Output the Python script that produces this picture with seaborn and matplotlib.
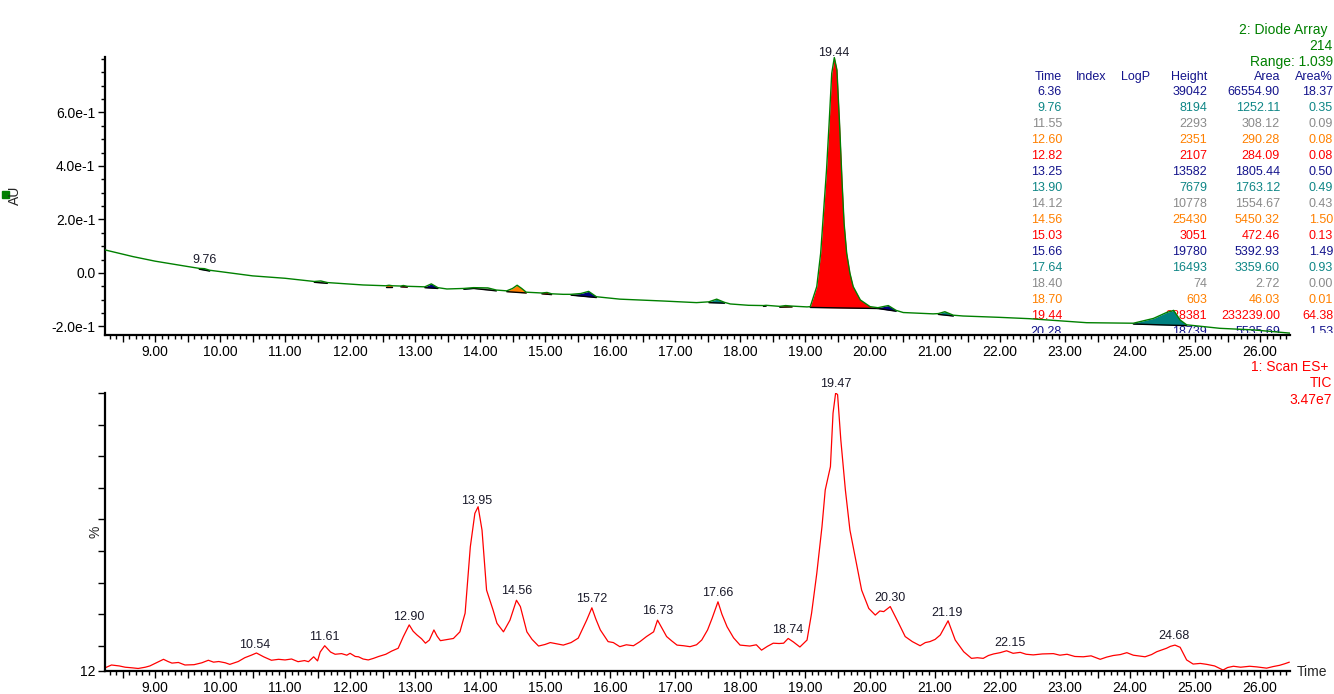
import numpy as np
import matplotlib
matplotlib.use("Agg")
import matplotlib.pyplot as plt
import seaborn as sns
from matplotlib.ticker import MultipleLocator, FuncFormatter

# --- 2: Diode Array trace (AU) ---
dad_time = [8.23, 8.66, 9.00, 9.50, 9.68, 9.76, 9.84, 10.00, 10.50, 11.00, 11.45, 11.55,
            11.65, 12.20, 12.55, 12.60, 12.65, 12.78, 12.82, 12.88, 13.02, 13.15, 13.25,
            13.35, 13.49, 13.75, 13.90, 14.12, 14.25, 14.41, 14.50, 14.57, 14.64, 14.71,
            14.95, 15.03, 15.10, 15.28, 15.40, 15.55, 15.67, 15.79, 16.15, 16.82, 17.33,
            17.52, 17.64, 17.76, 17.85, 18.13, 18.36, 18.40, 18.61, 18.70, 18.80, 19.03,
            19.08, 19.18, 19.24, 19.29, 19.33, 19.37, 19.41, 19.45, 19.49, 19.53, 19.57,
            19.60, 19.64, 19.69, 19.74, 19.85, 20.00, 20.12, 20.28, 20.40, 20.51, 20.97,
            21.05, 21.15, 21.28, 21.43, 21.99, 22.45, 23.33, 24.05, 24.36, 24.56, 24.67,
            24.77, 24.87, 25.38, 25.90, 26.46]
dad_au = [0.086, 0.061, 0.044, 0.024, 0.017, 0.016, 0.010, 0.005, -0.011, -0.020, -0.032, -0.030,
          -0.036, -0.045, -0.048, -0.046, -0.048, -0.049, -0.047, -0.050, -0.051, -0.052, -0.041,
          -0.055, -0.060, -0.058, -0.055, -0.056, -0.064, -0.067, -0.058, -0.046, -0.058, -0.072,
          -0.075, -0.073, -0.078, -0.080, -0.080, -0.077, -0.069, -0.089, -0.098, -0.105, -0.111,
          -0.108, -0.098, -0.110, -0.116, -0.121, -0.122, -0.121, -0.125, -0.122, -0.124, -0.127,
          -0.126, -0.051, 0.074, 0.248, 0.385, 0.560, 0.746, 0.805, 0.759, 0.560, 0.335,
          0.186, 0.074, -0.001, -0.051, -0.101, -0.126, -0.130, -0.122, -0.140, -0.148, -0.153,
          -0.152, -0.145, -0.158, -0.161, -0.166, -0.171, -0.186, -0.188, -0.170, -0.148, -0.140,
          -0.176, -0.194, -0.207, -0.213, -0.225]

# integrated peak windows on the DAD trace
fill_start = [9.68, 11.45, 12.55, 12.78, 13.15, 13.75, 13.90, 14.41, 14.95, 15.40, 17.52,
              18.36, 18.61, 19.08, 20.12, 21.05, 24.05]
fill_end = [9.84, 11.65, 12.65, 12.88, 13.35, 13.90, 14.25, 14.71, 15.10, 15.79, 17.76,
            18.40, 18.80, 20.12, 20.40, 21.28, 24.87]
fill_color = ["#008080", "#808080", "#ff8000", "#ff0000", "#000080", "#008080", "#808080",
              "#ff8000", "#ff0000", "#000080", "#008080", "#808080", "#ff8000", "#ff0000",
              "#000080", "#008080", "#008080"]
dad_labels = [9.76, 19.44]

# peak table
tbl_time = ["6.36", "9.76", "11.55", "12.60", "12.82", "13.25", "13.90", "14.12", "14.56",
            "15.03", "15.66", "17.64", "18.40", "18.70", "19.44", "20.28"]
tbl_height = ["39042", "8194", "2293", "2351", "2107", "13582", "7679", "10778", "25430",
              "3051", "19780", "16493", "74", "603", "928381", "18739"]
tbl_area = ["66554.90", "1252.11", "308.12", "290.28", "284.09", "1805.44", "1763.12",
            "1554.67", "5450.32", "472.46", "5392.93", "3359.60", "2.72", "46.03",
            "233239.00", "5535.69"]
tbl_pct = ["18.37", "0.35", "0.09", "0.08", "0.08", "0.50", "0.49", "0.43", "1.50", "0.13",
           "1.49", "0.93", "0.00", "0.01", "64.38", "1.53"]
tbl_colors = ["#14148c", "#0e8686", "#8a8a8a", "#ff8000", "#ff0000"]

# --- 1: Scan ES+ TIC (%) ---
tic_time = [8.23, 8.33, 8.45, 8.54, 8.65, 8.74, 8.85, 8.92, 9.02, 9.13, 9.20, 9.26, 9.36, 9.46,
            9.60, 9.72, 9.82, 9.90, 9.98, 10.08, 10.15, 10.28, 10.38, 10.48, 10.56, 10.67,
            10.79, 10.90, 11.00, 11.10, 11.20, 11.30, 11.36, 11.44, 11.50, 11.54, 11.61,
            11.70, 11.77, 11.87, 11.95, 12.00, 12.08, 12.13, 12.20, 12.28, 12.36, 12.44,
            12.55, 12.64, 12.74, 12.82, 12.91, 12.97, 13.03, 13.10, 13.16, 13.22, 13.29,
            13.34, 13.39, 13.50, 13.59, 13.69, 13.77, 13.85, 13.92, 13.97, 14.03, 14.10,
            14.20, 14.26, 14.36, 14.46, 14.56, 14.62, 14.72, 14.80, 14.90, 15.00, 15.08,
            15.18, 15.28, 15.40, 15.51, 15.64, 15.72, 15.78, 15.85, 15.97, 16.05, 16.15,
            16.25, 16.36, 16.46, 16.56, 16.67, 16.73, 16.80, 16.87, 16.95, 17.03, 17.13,
            17.23, 17.33, 17.41, 17.50, 17.57, 17.66, 17.72, 17.80, 17.90, 18.00, 18.15,
            18.25, 18.33, 18.42, 18.51, 18.60, 18.67, 18.74, 18.82, 18.92, 19.03, 19.10,
            19.18, 19.26, 19.31, 19.39, 19.43, 19.47, 19.50, 19.55, 19.62, 19.69, 19.80,
            19.87, 19.98, 20.08, 20.15, 20.21, 20.31, 20.44, 20.54, 20.65, 20.77, 20.85,
            20.92, 21.00, 21.08, 21.20, 21.31, 21.44, 21.56, 21.65, 21.74, 21.82, 21.90,
            22.00, 22.10, 22.20, 22.31, 22.40, 22.51, 22.65, 22.82, 22.92, 23.03, 23.15,
            23.28, 23.40, 23.54, 23.64, 23.74, 23.85, 23.95, 24.05, 24.23, 24.33, 24.41,
            24.48, 24.56, 24.62, 24.69, 24.77, 24.87, 24.97, 25.08, 25.18, 25.30, 25.43,
            25.50, 25.59, 25.70, 25.84, 25.95, 26.10, 26.20, 26.30, 26.38, 26.45]
tic_pct = [13.0, 13.9, 13.6, 13.2, 13.0, 12.8, 13.2, 13.6, 14.6, 15.7, 15.0, 14.5, 14.7, 13.9,
           14.0, 14.6, 15.4, 14.8, 15.0, 14.6, 14.1, 15.0, 16.2, 17.0, 17.7, 16.5,
           15.4, 15.7, 15.5, 15.8, 14.95, 15.3, 14.95, 16.5, 15.2, 18.0, 20.0,
           18.0, 17.3, 17.5, 17.0, 17.6, 16.6, 16.5, 15.8, 15.5, 16.0, 16.6,
           17.3, 18.3, 19.2, 22.9, 26.6, 24.6, 23.4, 22.2, 20.8, 21.8, 25.0,
           23.0, 21.6, 22.0, 22.3, 24.4, 30.3, 51.3, 61.9, 64.0, 56.6, 37.6,
           31.3, 27.1, 24.4, 28.1, 34.4, 32.4, 24.4, 22.0, 19.9, 20.4, 21.0,
           20.6, 20.2, 21.0, 22.4, 28.1, 32.0, 28.5, 25.0, 21.3, 21.0, 19.7,
           20.3, 20.0, 21.3, 22.9, 24.4, 28.1, 25.5, 22.9, 21.5, 20.2, 20.0,
           19.7, 20.3, 21.8, 25.0, 28.7, 33.9, 30.0, 26.0, 22.5, 20.2, 19.9,
           20.3, 18.6, 19.8, 20.8, 20.7, 20.8, 22.3, 21.2, 19.6, 21.8, 30.3,
           42.9, 57.7, 69.3, 76.7, 93.6, 100.0, 99.5, 85.1, 69.3, 56.6, 45.0,
           37.6, 31.8, 29.7, 31.0, 30.8, 32.4, 27.1, 22.9, 21.3, 20.0, 21.0,
           21.3, 22.0, 23.4, 27.9, 21.8, 18.1, 16.0, 16.2, 16.0, 16.9, 17.4,
           17.8, 18.4, 17.6, 17.9, 17.3, 17.1, 17.4, 17.5, 17.0, 17.3, 16.6,
           16.5, 16.8, 15.7, 16.4, 16.9, 17.2, 17.8, 17.0, 16.5, 17.2, 18.1,
           18.6, 19.2, 19.8, 20.2, 19.5, 15.5, 14.2, 14.4, 14.1, 13.6, 12.3,
           13.1, 13.5, 13.2, 13.5, 13.3, 12.9, 13.4, 13.8, 14.3, 14.8]
tic_labels = [10.54, 11.61, 12.90, 13.95, 14.56, 15.72, 16.73, 17.66, 18.74, 19.47,
              20.30, 21.19, 22.15, 24.68]

dad_yticks = [-0.2, 0.0, 0.2, 0.4, 0.6]
dad_yticklabels = ["-2.0e-1", "0.0", "2.0e-1", "4.0e-1", "6.0e-1"]
tic_yticks = [12, 20, 30, 40, 50, 60, 70, 80, 90, 100]
tic_yticklabels = ["12", "", "", "", "", "", "", "", "", ""]

sns.set_style("ticks")
plt.rcParams['font.family'] = ['Liberation Sans', 'DejaVu Sans']
plt.rcParams['font.size'] = 10

W, H = 1334, 694
fig = plt.figure(figsize=(W / 100, H / 100), dpi=100)


def px_box(l, t, r, b):
    return [l / W, 1 - b / H, (r - l) / W, (b - t) / H]


# peak table sits behind the DAD trace
ax_tab = fig.add_axes(px_box(1000, 0, 1334, 333), zorder=0)
ax_tab.set_xlim(1000, 1334)
ax_tab.set_ylim(333, 0)
ax_tab.axis('off')

ax1 = fig.add_axes(px_box(105, 57, 1290, 335), zorder=1)
ax1.patch.set_alpha(0)
ax2 = fig.add_axes(px_box(105, 393, 1290, 671))

t1 = np.array(dad_time)
y1 = np.array(dad_au)
for s, e, c in zip(fill_start, fill_end, fill_color):
    m = (t1 >= s - 1e-6) & (t1 <= e + 1e-6)
    base = np.interp(t1[m], [s, e], [np.interp(s, t1, y1) - 0.003, np.interp(e, t1, y1) - 0.003])
    ax1.fill_between(t1[m], y1[m], base, color=c, lw=0, zorder=2)
    ax1.plot([s, e], [base[0], base[-1]], color="black", lw=1.0, zorder=3)
sns.lineplot(x=dad_time, y=dad_au, ax=ax1, color="#008000", lw=1.0, estimator=None, zorder=4)
for lt in dad_labels:
    ax1.annotate(f"{lt:.2f}", (lt, np.interp(lt, t1, y1)), xytext=(0, 2), textcoords="offset points",
                 ha="center", va="bottom", fontsize=9, color="#1a1a2a", annotation_clip=False)

t2 = np.array(tic_time)
y2 = np.array(tic_pct)
sns.lineplot(x=tic_time, y=tic_pct, ax=ax2, color="#ff0000", lw=0.9, estimator=None)
for lt in tic_labels:
    ax2.annotate(f"{lt:.2f}", (lt, np.interp(lt, t2, y2)), xytext=(0, 2), textcoords="offset points",
                 ha="center", va="bottom", fontsize=9, color="#1a1a2a", annotation_clip=False)

xfmt = FuncFormatter(lambda v, p: f"{v:.2f}" if abs(v - round(v)) < 1e-6 else "")
for ax in (ax1, ax2):
    ax.set_xlim(8.23, 26.46)
    ax.xaxis.set_major_locator(MultipleLocator(0.5))
    ax.xaxis.set_minor_locator(MultipleLocator(0.1))
    ax.xaxis.set_major_formatter(xfmt)
    ax.tick_params(axis="both", which="major", length=5, width=1, color="black", pad=2,
                   labelsize=10, labelcolor="black")
    ax.tick_params(axis="both", which="minor", length=3, width=1, color="black")
    for side in ("top", "right"):
        ax.spines[side].set_visible(False)
    for side in ("left", "bottom"):
        ax.spines[side].set_linewidth(1.6)
        ax.spines[side].set_color("black")
    ax.set_xlabel("")
    ax.set_ylabel("")

ax1.set_ylim(-0.232, 0.807)
ax1.set_yticks(dad_yticks)
ax1.set_yticklabels(dad_yticklabels)
ax1.yaxis.set_minor_locator(MultipleLocator(0.05))

ax2.set_ylim(12, 100)
ax2.set_yticks(tic_yticks)
ax2.set_yticklabels(tic_yticklabels)

# table text
ax_tab.text(1327, 30, "2: Diode Array", ha="right", va="center", color="#008000", fontsize=10)
ax_tab.text(1332, 46, "214", ha="right", va="center", color="#008000", fontsize=10)
ax_tab.text(1333, 62, "Range: 1.039", ha="right", va="center", color="#008000", fontsize=10)
hdr_col = tbl_colors[0]
for txt, x, ha in [("Time", 1062, "right"), ("Index", 1076, "left"), ("LogP", 1121, "left"),
                   ("Height", 1207, "right"), ("Area", 1280, "right"), ("Area%", 1333, "right")]:
    ax_tab.text(x, 77, txt, ha=ha, va="center", color=hdr_col, fontsize=9)
for i in range(len(tbl_time)):
    yy = 92 + 16 * i
    c = tbl_colors[i % len(tbl_colors)]
    for txt, x in [(tbl_time[i], 1062), (tbl_height[i], 1207), (tbl_area[i], 1280), (tbl_pct[i], 1333)]:
        ax_tab.text(x, yy, txt, ha="right", va="center", color=c, fontsize=9, clip_on=True)

# side labels
fig.text(15 / W, 1 - 195 / H, "AU", rotation=90, ha="center", va="center", fontsize=10)
fig.add_artist(plt.Rectangle((2 / W, 1 - 198 / H), 7 / W, 7 / H, color="#008000",
                             transform=fig.transFigure))
fig.text(95 / W, 1 - 532 / H, "%", rotation=90, ha="center", va="center", fontsize=10)
fig.text(1297 / W, 1 - 672 / H, "Time", ha="left", va="center", fontsize=10)
fig.text(1328 / W, 1 - 367 / H, "1: Scan ES+", ha="right", va="center", color="#ff0000", fontsize=10)
fig.text(1332 / W, 1 - 383 / H, "TIC", ha="right", va="center", color="#ff0000", fontsize=10)
fig.text(1332 / W, 1 - 400 / H, "3.47e7", ha="right", va="center", color="#ff0000", fontsize=10)

fig.savefig("out.png", dpi=100, facecolor="white")
